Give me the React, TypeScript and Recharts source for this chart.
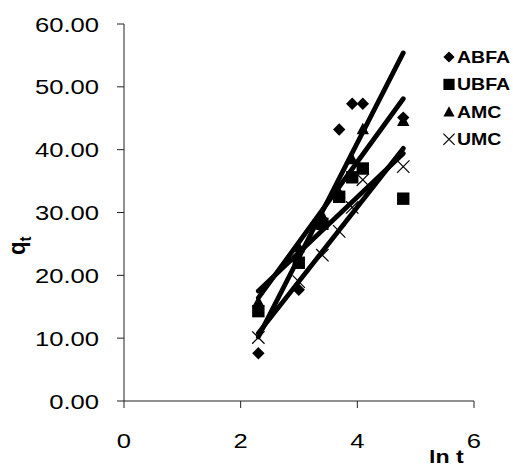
import { Legend, Scatter, ScatterChart, XAxis, YAxis } from "recharts";

// ln t for t = 10, 20, 30, 40, 50, 60, 120 min
const LN_T = [2.303, 2.996, 3.401, 3.689, 3.912, 4.094, 4.787];
const ABFA = [7.6, 17.7, 28.5, 43.2, 47.3, 47.3, 45.1];
const UBFA = [14.3, 22.0, 28.2, 32.5, 35.6, 37.0, 32.2];
const AMC = [15.8, 24.5, 29.5, 33.2, 38.5, 43.3, 44.6];
const UMC = [10.1, 19.0, 23.2, 27.0, 30.8, 35.2, 37.3];

// linear trend lines, end points
const TREND_X = [2.303, 4.787];
const ABFA_TREND = [10.2, 55.4];
const UBFA_TREND = [17.5, 39.4];
const AMC_TREND = [16.4, 48.1];
const UMC_TREND = [10.8, 40.2];

const X_TICKS = [0, 2, 4, 6];
const Y_TICKS = [0, 10, 20, 30, 40, 50, 60];

const NAMES = ["ABFA", "UBFA", "AMC", "UMC"];
const KINDS = ["diamond", "square", "triangle", "cross"];

const FONT = "'Liberation Sans', Arial, sans-serif";
// the source picture is stretched sideways a little
const STRETCH = 1.22;

const toPoints = (xs: number[], ys: number[]) => xs.map((x, i) => ({ x, y: ys[i] }));

function marker(kind: string, cx: number, cy: number, s: number) {
  if (kind === "diamond")
    return (
      <polygon
        points={`${cx},${cy - s} ${cx + s},${cy} ${cx},${cy + s} ${cx - s},${cy}`}
        fill="#000"
      />
    );
  if (kind === "square")
    return <rect x={cx - s} y={cy - s} width={2 * s} height={2 * s} fill="#000" />;
  if (kind === "triangle")
    return (
      <polygon
        points={`${cx},${cy - s} ${cx + s},${cy + s * 0.85} ${cx - s},${cy + s * 0.85}`}
        fill="#000"
      />
    );
  return (
    <path
      d={`M${cx - s},${cy - s}L${cx + s},${cy + s}M${cx - s},${cy + s}L${cx + s},${cy - s}`}
      stroke="#000"
      strokeWidth={1.2}
      fill="none"
    />
  );
}

function YTick(props: any) {
  const { x, y, payload } = props;
  return (
    <text
      transform={`translate(${x},${y}) scale(${STRETCH},1)`}
      textAnchor="end"
      dy="0.36em"
      fontSize={21}
      fontFamily={FONT}
      fill="#000"
    >
      {Number(payload.value).toFixed(2)}
    </text>
  );
}

function XTick(props: any) {
  const { x, y, payload } = props;
  return (
    <text
      transform={`translate(${x},${y}) scale(${STRETCH},1)`}
      textAnchor="middle"
      dy="0.71em"
      fontSize={21}
      fontFamily={FONT}
      fill="#000"
    >
      {payload.value}
    </text>
  );
}

const YTitle = () => (
  <text
    transform="translate(25,255) rotate(-90) scale(1,1.1)"
    fontSize={22}
    fontWeight="bold"
    fontFamily={FONT}
    fill="#000"
  >
    q
    <tspan fontSize={15} dy={5}>
      t
    </tspan>
  </text>
);

const XTitle = () => (
  <text
    transform={`translate(429,462.5) scale(${STRETCH},1)`}
    fontSize={19}
    fontWeight="bold"
    fontFamily={FONT}
    fill="#000"
  >
    ln t
  </text>
);

function LegendBox() {
  return (
    <svg width={80} height={115}>
      {NAMES.map((n, i) => {
        const cy = 13 + i * 27.4;
        return (
          <g key={n}>
            {marker(KINDS[i], 9, cy, 5.6)}
            <text
              transform={`translate(17,${cy}) scale(${STRETCH},1)`}
              dy="0.36em"
              fontSize={16}
              fontWeight="bold"
              fontFamily={FONT}
              fill="#000"
            >
              {n}
            </text>
          </g>
        );
      })}
    </svg>
  );
}

const none = () => <g />;
const trendLine = { stroke: "#000", strokeWidth: 4.8, strokeLinecap: "round" as const };

export default function App() {
  const series = [ABFA, UBFA, AMC, UMC];
  const trends = [ABFA_TREND, UBFA_TREND, AMC_TREND, UMC_TREND];
  return (
    <div style={{ position: "absolute", left: 0, top: 0, background: "#fff" }}>
      <ScatterChart
        width={513}
        height={464}
        margin={{ top: 24, right: 39, bottom: 33, left: 64 }}
      >
        <XAxis
          type="number"
          dataKey="x"
          domain={[0, 6]}
          ticks={X_TICKS}
          height={30}
          stroke="#222"
          tickSize={7}
          tickMargin={25}
          tick={XTick}
          label={XTitle}
        />
        <YAxis
          type="number"
          dataKey="y"
          domain={[0, 60]}
          ticks={Y_TICKS}
          width={60}
          stroke="#222"
          tickSize={7}
          tickMargin={18}
          tick={YTick}
          label={YTitle}
        />
        <Legend
          layout="vertical"
          align="center"
          verticalAlign="middle"
          content={LegendBox}
          wrapperStyle={{ position: "absolute", left: 440, top: 44, width: 80, height: 115 }}
        />
        {series.map((ys, i) => (
          <Scatter
            key={NAMES[i]}
            name={NAMES[i]}
            data={toPoints(LN_T, ys)}
            isAnimationActive={false}
            shape={(p: any) => marker(KINDS[i], p.cx, p.cy, 6.2)}
          />
        ))}
        {trends.map((ys, i) => (
          <Scatter
            key={NAMES[i] + "-trend"}
            name={NAMES[i] + " trend"}
            data={toPoints(TREND_X, ys)}
            isAnimationActive={false}
            line={trendLine}
            shape={none}
            legendType="none"
          />
        ))}
      </ScatterChart>
    </div>
  );
}
